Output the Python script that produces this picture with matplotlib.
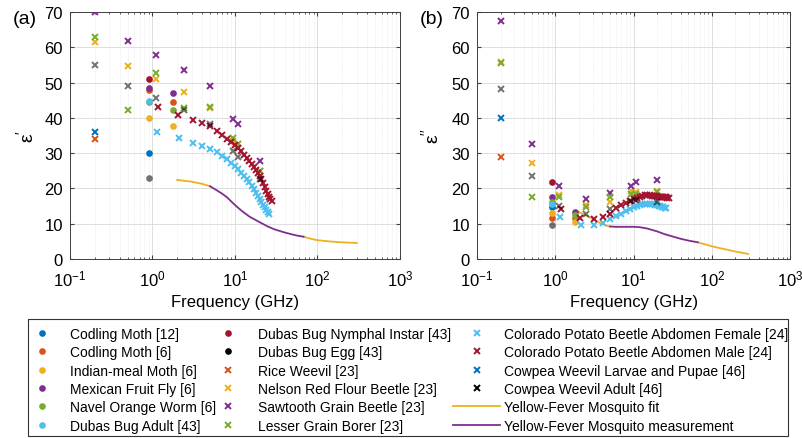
import numpy as np
import matplotlib
matplotlib.use("Agg")
import matplotlib.pyplot as plt
from matplotlib.patches import Rectangle
from matplotlib.ticker import LogLocator, NullFormatter

plt.rcParams['font.family'] = ['Liberation Sans', 'DejaVu Sans']
plt.rcParams['mathtext.default'] = 'regular'

# matlab default colour order
BLUE, ORANGE, YELLOW, PURPLE = '#0072BD', '#D95319', '#EDB120', '#7E2F8E'
GREEN, CYAN, DARKRED = '#77AC30', '#4DBEEE', '#A2142F'

# ---- circle series (f in GHz), eps' and eps''
codling12_f = [0.915]
codling12_e1 = [30.0]
codling12_e2 = [14.8]
codling6_f = [0.915, 1.8]
codling6_e1 = [47.8, 44.5]
codling6_e2 = [11.5, 11.5]
indianmeal_f = [0.915, 1.8]
indianmeal_e1 = [40.0, 37.6]
indianmeal_e2 = [13.1, 10.6]
mexfly_f = [0.915, 1.8]
mexfly_e1 = [48.5, 47.0]
mexfly_e2 = [17.5, 13.3]
navel_f = [0.915, 1.8]
navel_e1 = [44.5, 42.3]
navel_e2 = [16.1, 12.5]
dubas_adult_f = [0.915]
dubas_adult_e1 = [44.8]
dubas_adult_e2 = [15.5]
dubas_nymph_f = [0.915]
dubas_nymph_e1 = [51.0]
dubas_nymph_e2 = [21.8]
dubas_egg_f = [0.915]
dubas_egg_e1 = [23.0]
dubas_egg_e2 = [9.7]

# ---- cross series
nelson_f = [0.2, 0.5, 1.1, 2.45, 5.0, 9.4, 10.9, 20.0]
rice_f = [0.2]
rice_e1 = [34.0]
rice_e2 = [28.9]
nelson_e1 = [61.5, 54.6, 51.0, 47.3, 42.8, 33.5, 31.5, 24.8]
nelson_e2 = [56.0, 27.2, 18.2, 15.3, 16.2, 19.2, 19.0, 19.2]
sawtooth_e1 = [70.0, 61.8, 57.9, 53.5, 49.0, 39.8, 38.2, 27.9]
sawtooth_e2 = [67.5, 32.6, 20.8, 17.0, 18.6, 20.8, 21.9, 22.3]
lesser_e1 = [63.0, 42.2, 52.7, 42.9, 43.2, 34.2, 32.6, 25.0]
lesser_e2 = [55.5, 17.6, 17.6, 14.6, 17.6, 18.5, 18.3, 19.0]
cowpea_adult_e1 = [55.0, 49.0, 45.6, 42.3, 38.4, 30.7, 28.8, 22.7]
cowpea_adult_e2 = [48.3, 23.6, 15.1, 12.6, 14.2, 16.5, 16.8, 16.0]
cowpea_larvae_f = [0.2]
cowpea_larvae_e1 = [36.0]
cowpea_larvae_e2 = [40.1]

cpb_female_f = [1.15, 2.1, 3.1, 4.05, 5, 6, 7, 8, 9, 10, 11, 12, 13, 14, 15,
                16, 17, 18, 19, 20, 21, 22, 23, 24, 25, 26]
cpb_female_e1 = [36.0, 34.2, 33.0, 32.0, 31.3, 30.2, 29.2, 28.2, 27.3, 26.4,
                 25.5, 24.5, 23.5, 22.6, 21.7, 20.7, 19.7, 18.8, 17.9, 17.0,
                 16.2, 15.4, 14.6, 13.9, 13.3, 12.8]
cpb_female_e2 = [12.0, 9.7, 9.5, 10.2, 11.2, 12.1, 12.8, 13.5, 14.1, 14.6,
                 15.0, 15.3, 15.5, 15.6, 15.7, 15.7, 15.6, 15.5, 15.4, 15.2,
                 15.1, 14.9, 14.8, 14.6, 14.5, 14.4]
cpb_male_f = [1.17, 2.07, 3.1, 4.05, 5, 6, 7, 8, 9, 10, 11, 12, 13, 14, 15,
              16, 17, 18, 19, 20, 21, 22, 23, 24, 25, 26, 27, 28]
cpb_male_e1 = [43.0, 40.8, 39.5, 38.5, 37.8, 36.4, 35.2, 34.1, 33.2, 32.4,
               31.4, 30.5, 29.6, 28.7, 27.9, 27.0, 26.1, 25.3, 24.5, 23.6,
               22.6, 21.5, 20.4, 19.4, 18.4, 17.6, 17.0, 16.5]
cpb_male_e2 = [14.2, 11.6, 11.3, 12.0, 12.8, 14.3, 15.2, 15.9, 16.5, 17.0,
               17.4, 17.7, 17.9, 18.0, 18.0, 18.0, 17.9, 17.9, 17.8, 17.8,
               17.7, 17.7, 17.6, 17.6, 17.5, 17.5, 17.4, 17.4]

# ---- yellow-fever mosquito
mos_fit_lo_f1 = [2, 3, 4, 5]
mos_fit_lo_e1 = [22.4, 21.9, 21.3, 20.6]
mos_meas_f1 = [5, 6, 7, 8, 10, 12, 15, 20, 25, 30, 40, 50, 60, 68]
mos_meas_e1 = [20.6, 19.5, 18.5, 17.5, 15.3, 13.7, 12.0, 10.4, 9.2, 8.4,
               7.5, 6.9, 6.5, 6.3]
mos_fit_hi_f1 = [68, 80, 100, 150, 200, 300]
mos_fit_hi_e1 = [6.3, 5.8, 5.3, 4.9, 4.7, 4.5]

mos_fit_lo_f2 = [1.86, 2.05, 2.76, 3.7, 4.7, 5]
mos_fit_lo_e2 = [13.7, 13.2, 11.8, 10.2, 9.3, 9.2]
mos_meas_f2 = [5, 6, 8, 10, 12, 15, 20, 25, 30, 40, 50, 66]
mos_meas_e2 = [9.2, 9.1, 9.1, 9.1, 9.0, 8.6, 7.8, 7.0, 6.5, 5.7, 5.2, 4.7]
mos_fit_hi_f2 = [66, 80, 100, 113, 150, 200, 290]
mos_fit_hi_e2 = [4.7, 4.2, 3.6, 3.3, 2.7, 2.1, 1.4]

circ = [
    ('Codling Moth [12]', BLUE, codling12_f, codling12_e1, codling12_e2),
    ('Codling Moth [6]', ORANGE, codling6_f, codling6_e1, codling6_e2),
    ('Indian-meal Moth [6]', YELLOW, indianmeal_f, indianmeal_e1, indianmeal_e2),
    ('Mexican Fruit Fly [6]', PURPLE, mexfly_f, mexfly_e1, mexfly_e2),
    ('Navel Orange Worm [6]', GREEN, navel_f, navel_e1, navel_e2),
    ('Dubas Bug Adult [43]', CYAN, dubas_adult_f, dubas_adult_e1, dubas_adult_e2),
    ('Dubas Bug Nymphal Instar [43]', DARKRED, dubas_nymph_f, dubas_nymph_e1, dubas_nymph_e2),
    ('Dubas Bug Egg [43]', 'k', dubas_egg_f, dubas_egg_e1, dubas_egg_e2),
]
cross = [
    ('Rice Weevil [23]', ORANGE, rice_f, rice_e1, rice_e2),
    ('Nelson Red Flour Beetle [23]', YELLOW, nelson_f, nelson_e1, nelson_e2),
    ('Sawtooth Grain Beetle [23]', PURPLE, nelson_f, sawtooth_e1, sawtooth_e2),
    ('Lesser Grain Borer [23]', GREEN, nelson_f, lesser_e1, lesser_e2),
    ('Colorado Potato Beetle Abdomen Female [24]', CYAN, cpb_female_f, cpb_female_e1, cpb_female_e2),
    ('Colorado Potato Beetle Abdomen Male [24]', DARKRED, cpb_male_f, cpb_male_e1, cpb_male_e2),
    ('Cowpea Weevil Larvae and Pupae [46]', BLUE, cowpea_larvae_f, cowpea_larvae_e1, cowpea_larvae_e2),
    ('Cowpea Weevil Adult [46]', 'k', nelson_f, cowpea_adult_e1, cowpea_adult_e2),
]

W, H = 803, 439
fig = plt.figure(figsize=(W / 100, H / 100), dpi=100)
ax1 = fig.add_axes([0.087, 0.408, 0.411, 0.562])
ax2 = fig.add_axes([0.594, 0.408, 0.390, 0.562])

handles = []
for k, ax in enumerate([ax1, ax2]):
    for name, c, f, e1, e2 in circ:
        alpha = 0.55 if c == 'k' else 1.0
        h = ax.plot(f, e1 if k == 0 else e2, 'o', color=c, ms=4.8, mec='none',
                    alpha=alpha, label=name, zorder=3)[0]
        if k == 0:
            handles.append(h)
    for name, c, f, e1, e2 in cross:
        alpha = 0.55 if c == 'k' else 1.0
        h = ax.plot(f, e1 if k == 0 else e2, 'x', color=c, ms=4.2, mew=1.4,
                    alpha=alpha, label=name, zorder=3)[0]
        if k == 0:
            handles.append(h)

lw = 1.3
ax1.plot(mos_fit_lo_f1, mos_fit_lo_e1, color=YELLOW, lw=lw)
ax1.plot(mos_fit_hi_f1, mos_fit_hi_e1, color=YELLOW, lw=lw)
ax1.plot(mos_meas_f1, mos_meas_e1, color=PURPLE, lw=lw)
h_fit = ax2.plot(mos_fit_lo_f2, mos_fit_lo_e2, color=YELLOW, lw=lw,
                 label='Yellow-Fever Mosquito fit')[0]
ax2.plot(mos_fit_hi_f2, mos_fit_hi_e2, color=YELLOW, lw=lw)
h_meas = ax2.plot(mos_meas_f2, mos_meas_e2, color=PURPLE, lw=lw,
                  label='Yellow-Fever Mosquito measurement')[0]
handles += [h_fit, h_meas]

for ax, ylab, lx in [(ax1, r"$\epsilon'$", -0.10), (ax2, r"$\epsilon''$", -0.11)]:
    ax.set_xscale('log')
    ax.set_xlim(0.1, 1000)
    ax.set_ylim(0, 70)
    ax.set_yticks(np.arange(0, 71, 10))
    ax.xaxis.set_major_locator(LogLocator(base=10, numticks=10))
    ax.xaxis.set_minor_locator(LogLocator(base=10, subs=np.arange(2, 10), numticks=50))
    ax.xaxis.set_minor_formatter(NullFormatter())
    ax.grid(True, which='major', color='0.85', lw=0.6)
    ax.grid(True, which='minor', axis='x', color='0.88', lw=0.5, ls=':')
    ax.set_axisbelow(True)
    ax.tick_params(which='both', direction='in', top=True, right=True,
                   labelsize=12, color='0.25')
    ax.tick_params(axis='x', which='both', pad=7)
    ax.tick_params(axis='y', which='both', pad=5)
    ax.tick_params(which='major', length=3)
    ax.tick_params(which='minor', length=1.5)
    for s in ax.spines.values():
        s.set_color('0.25')
        s.set_linewidth(0.7)
    ax.set_xlabel('Frequency (GHz)', fontsize=12, labelpad=4)
    ax.set_ylabel(ylab, fontsize=14)
    ax.yaxis.set_label_coords(lx, 0.5)

fig.text(13 / W, 1 - 20 / H, '(a)', fontsize=14, ha='left', va='center')
fig.text(420 / W, 1 - 20 / H, '(b)', fontsize=14, ha='left', va='center')

# legend: framed box with three columns
fig.patches.append(Rectangle((28 / W, 1 - 437 / H), 760 / W, 117 / H,
                             transform=fig.transFigure, fill=False,
                             edgecolor='0.2', lw=0.8))
cols = [(handles[0:6], 33, 1.3, 1.4),
        (handles[6:12], 219, 1.3, 1.5),
        (handles[12:18], 453, 3.4, 0.25)]
for hs, x0, hl, tp in cols:
    lg = fig.legend(handles=hs, loc='upper left',
                    bbox_to_anchor=(x0 / W, 1 - 328 / H), borderaxespad=0,
                    borderpad=0, frameon=False, fontsize=10,
                    handlelength=hl, handletextpad=tp, labelspacing=0.31)
    for lh in lg.legend_handles:
        lh.set_alpha(1)

fig.savefig('out.png', dpi=100)
